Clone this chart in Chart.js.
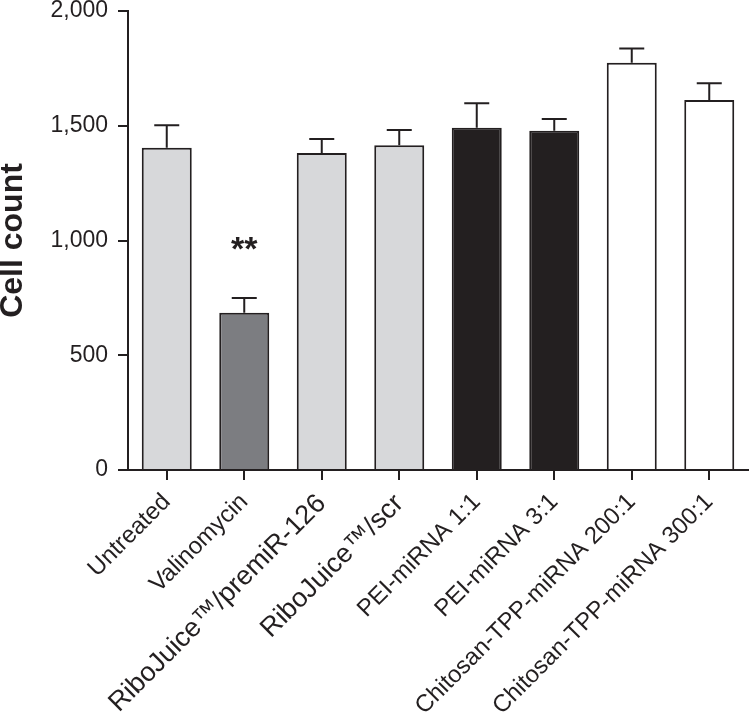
<!DOCTYPE html>
<html>
<head>
<meta charset="utf-8">
<script src="https://cdn.jsdelivr.net/npm/chart.js@4"></script>
<style>
  html, body { margin: 0; padding: 0; background: #fff; }
  #wrap { width: 749px; height: 723px; }
</style>
</head>
<body>
<div id="wrap"><canvas id="cellChart"></canvas></div>
<script>
const categories = [
  "Untreated",
  "Valinomycin",
  "RiboJuice™/premiR-126",
  "RiboJuice™/scr",
  "PEI-miRNA 1:1",
  "PEI-miRNA 3:1",
  "Chitosan-TPP-miRNA 200:1",
  "Chitosan-TPP-miRNA 300:1",
];
const cellCounts = [1404, 685, 1381, 1415, 1491, 1478, 1775, 1612];
const errorBars = [98, 64, 61, 66, 107, 51, 62, 73];
const barColors = ["#d7d8da", "#7c7d81", "#d7d8da", "#d7d8da", "#231f20", "#231f20", "#ffffff", "#ffffff"];
const yTicks = [0, 500, 1000, 1500, 2000];
const significance = [{ index: 1, text: "**", at: 1000 }];

const INK = "#231f20";
const FONT = "'Liberation Sans', Arial, Helvetica, sans-serif";

// error bars (upper only) and significance stars
const errorBarPlugin = {
  id: "errorBars",
  afterDatasetsDraw(chart) {
    const ctx = chart.ctx;
    const meta = chart.getDatasetMeta(0);
    const y = chart.scales.y;
    ctx.save();
    ctx.strokeStyle = INK;
    ctx.lineWidth = 2;
    meta.data.forEach((bar, i) => {
      const top = y.getPixelForValue(cellCounts[i] + errorBars[i]);
      const base = y.getPixelForValue(cellCounts[i]);
      ctx.beginPath();
      ctx.moveTo(bar.x, base);
      ctx.lineTo(bar.x, top);
      ctx.moveTo(bar.x - 12.5, top);
      ctx.lineTo(bar.x + 12.5, top);
      ctx.stroke();
    });
    ctx.fillStyle = INK;
    ctx.font = "bold 34px " + FONT;
    ctx.textAlign = "center";
    ctx.textBaseline = "alphabetic";
    significance.forEach((s) => {
      const bar = meta.data[s.index];
      ctx.fillText(s.text, bar.x, y.getPixelForValue(s.at) + 19);
    });
    ctx.restore();
  },
};

new Chart(document.getElementById("cellChart").getContext("2d"), {
  type: "bar",
  data: {
    labels: categories,
    datasets: [
      {
        data: cellCounts,
        backgroundColor: barColors,
        borderColor: INK,
        borderWidth: 2,
        borderSkipped: "bottom",
        barPercentage: 0.645,
        categoryPercentage: 1,
      },
    ],
  },
  options: {
    responsive: true,
    maintainAspectRatio: false,
    animation: false,
    layout: { padding: { top: 11, right: 1, left: 0, bottom: 0 } },
    plugins: {
      legend: { display: false },
      tooltip: { enabled: false },
    },
    scales: {
      x: {
        offset: true,
        border: { display: true, color: INK, width: 2 },
        grid: {
          offset: false,
          drawOnChartArea: false,
          drawTicks: true,
          tickLength: 10,
          color: INK,
          lineWidth: 2,
        },
        ticks: {
          color: INK,
          maxRotation: 45,
          minRotation: 45,
          autoSkip: false,
          padding: 8,
          font: (c) => ({
            family: FONT,
            size: c.index === 2 || c.index === 3 ? 27 : 24,
          }),
        },
        afterFit: (scale) => {
          scale.height = 253;
        },
      },
      y: {
        min: 0,
        max: 2000,
        border: { display: true, color: INK, width: 2 },
        grid: {
          drawOnChartArea: false,
          drawTicks: true,
          tickLength: 10,
          color: INK,
          lineWidth: 2,
        },
        afterBuildTicks: (scale) => {
          scale.ticks = yTicks.map((v) => ({ value: v }));
        },
        ticks: {
          color: INK,
          padding: 10,
          font: { family: FONT, size: 23 },
          callback: (v) => v.toLocaleString("en-US"),
        },
        title: {
          display: true,
          text: "Cell count",
          color: INK,
          font: { family: FONT, size: 32, weight: "bold", lineHeight: 1 },
          padding: { top: -3, bottom: 0 },
        },
        afterFit: (scale) => {
          scale.width = 128;
          scale.paddingTop = 0;
          scale.paddingBottom = 0;
        },
      },
    },
  },
  plugins: [errorBarPlugin],
});
</script>
</body>
</html>
